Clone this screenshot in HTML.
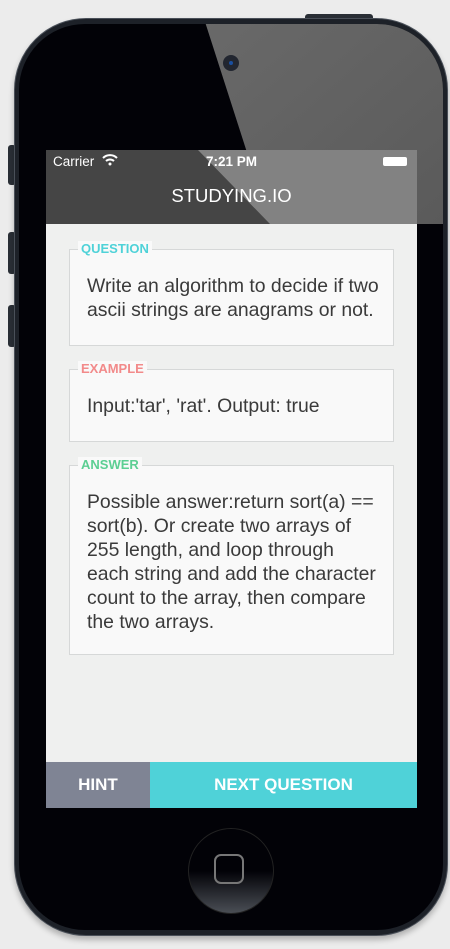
<!DOCTYPE html>
<html><head><style>
body{margin:0;width:450px;height:949px;background:#ececec;position:relative;overflow:hidden;font-family:"Liberation Sans",sans-serif}
.abs{position:absolute}
.card{position:absolute;left:69px;width:325px;background:#f9f9f9;border:1px solid #d6d8d8;box-sizing:border-box}
.lab{position:absolute;top:-9px;left:8px;background:#f9f9f9;padding:0 3px;font-size:13px;font-weight:bold;line-height:16px}
.txt{position:absolute;left:17px;right:0;font-size:19.4px;line-height:24px;color:#3a3a3a;white-space:nowrap}
</style></head><body>
<div class="abs" style="left:305px;top:14px;width:68px;height:8px;background:#2a2f36;border-radius:3px"></div>
<div class="abs" style="left:8px;top:145px;width:8px;height:40px;background:#2a2f36;border-radius:3px"></div>
<div class="abs" style="left:8px;top:232px;width:8px;height:42px;background:#2a2f36;border-radius:3px"></div>
<div class="abs" style="left:8px;top:305px;width:8px;height:42px;background:#2a2f36;border-radius:3px"></div>
<div class="abs" style="left:14px;top:18px;width:434px;height:918px;border-radius:72px;background:#1d2128;border:1px solid #4a5059;box-sizing:border-box;box-shadow:0 4px 6px rgba(0,0,0,.25)"></div>
<div class="abs" style="left:19px;top:24px;width:424px;height:906px;border-radius:66px;background:#020207"></div>
<svg class="abs" style="left:0;top:0" width="450" height="949">
<defs><clipPath id="c"><rect x="19" y="24" width="424" height="906" rx="66"/></clipPath>
<linearGradient id="g" x1="0" y1="0" x2="1" y2="1"><stop offset="0" stop-color="#6a6a6a"/><stop offset="1" stop-color="#5a5a5a"/></linearGradient></defs>
<polygon clip-path="url(#c)" points="198,0 450,0 450,224 270,224" fill="url(#g)"/>
</svg>
<div class="abs" style="left:223px;top:55px;width:16px;height:16px;border-radius:50%;background:#222630"></div>
<div class="abs" style="left:229px;top:61px;width:4px;height:4px;border-radius:50%;background:#1a4fa0"></div>
<div class="abs" style="left:46px;top:150px;width:371px;height:658px;background:#eff0ef;overflow:hidden">
<div class="abs" style="left:0;top:0;width:371px;height:74px;background:#454545"></div>
<svg class="abs" style="left:0;top:0" width="371" height="658"><polygon points="152,0 371,0 371,74 224,74" fill="#fff" opacity="0.33"/><polygon points="224,74 371,74 371,658 400,658" fill="#fff" opacity="0.05"/></svg>
<div class="abs" style="left:7px;top:4px;color:#fff;font-size:13.5px">Carrier</div>
<svg class="abs" style="left:56px;top:4px" width="16" height="12"><path d="M1,4 A10,10 0 0 1 15,4" stroke="#fff" stroke-width="2" fill="none"/><path d="M4,7 A6,6 0 0 1 12,7" stroke="#fff" stroke-width="2" fill="none"/><circle cx="8" cy="10" r="1.5" fill="#fff"/></svg>
<div class="abs" style="left:0;width:371px;top:4px;text-align:center;color:#fff;font-size:13.5px;font-weight:bold">7:21 PM</div>
<div class="abs" style="left:337px;top:7px;width:24px;height:9px;background:#fff;border-radius:2px"></div>
<div class="abs" style="left:0;width:371px;top:35px;text-align:center;color:#fff;font-size:18.5px">STUDYING.IO</div>
<div class="abs" style="left:0;top:612px;width:104px;height:46px;background:#7f8494;color:#fff;font-weight:bold;font-size:17px;text-align:center;line-height:46px">HINT</div>
<div class="abs" style="left:104px;top:612px;width:267px;height:46px;background:#4fd2d8;color:#fff;font-weight:bold;font-size:17px;text-align:center;line-height:46px">NEXT QUESTION</div>
</div>
<div class="card" style="top:249px;height:97px"><div class="lab" style="color:#4fd2d8">QUESTION</div><div class="txt" style="top:24px">Write an algorithm to decide if two<br>ascii strings are anagrams or not.</div></div>
<div class="card" style="top:369px;height:73px"><div class="lab" style="color:#f28a8a">EXAMPLE</div><div class="txt" style="top:24px">Input:'tar', 'rat'. Output: true</div></div>
<div class="card" style="top:465px;height:190px"><div class="lab" style="color:#5ccf93">ANSWER</div><div class="txt" style="top:24px">Possible answer:return sort(a) ==<br>sort(b). Or create two arrays of<br>255 length, and loop through<br>each string and add the character<br>count to the array, then compare<br>the two arrays.</div></div>
<div class="abs" style="left:188px;top:828px;width:84px;height:84px;border-radius:50%;background:linear-gradient(#020207 50%,#4a4e55);border:1px solid #222"></div>
<div class="abs" style="left:214px;top:854px;width:30px;height:30px;border-radius:7px;border:2px solid #777;box-sizing:border-box"></div>
</body></html>
